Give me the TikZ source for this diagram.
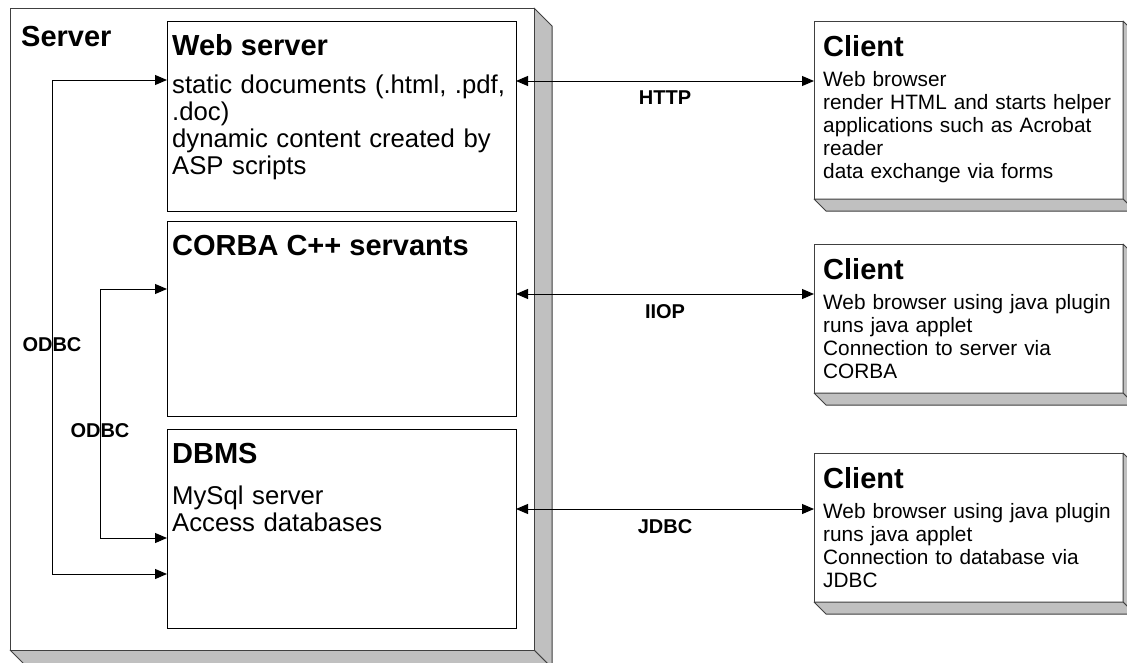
\documentclass[tikz,border=0pt]{standalone}
\usepackage{fontspec}
\setmainfont{Liberation Sans}
\usetikzlibrary{arrows.meta}
\definecolor{shade}{RGB}{192,192,192}
\definecolor{edge}{RGB}{64,64,64}
\begin{document}
\begin{tikzpicture}[x=1pt,y=-1pt,
  ibox/.style={draw=black,line width=1pt,fill=white,anchor=north west,inner sep=0pt,outer sep=0pt},
  obox/.style={draw=edge,line width=1pt,fill=white,anchor=north west,inner sep=0pt,outer sep=0pt},
  face/.style={fill=shade,draw=edge,line width=1pt,line join=bevel},
  ttl/.style={anchor=base west,inner sep=0pt,font=\fontsize{29}{32}\selectfont\bfseries},
  bodytxt/.style={anchor=base west,inner sep=0pt,align=left,text width=345pt,font=\fontsize{25.7}{27}\selectfont},
  cbody/.style={anchor=base west,inner sep=0pt,align=left,text width=300pt,font=\fontsize{20.8}{23.2}\selectfont},
  lbl/.style={inner sep=0pt,font=\fontsize{20}{22}\selectfont\bfseries},
  dconn/.style={line width=1pt,line join=miter,{Triangle[length=12pt,width=10pt]}-{Triangle[length=12pt,width=10pt]}}
]
\useasboundingbox (0,0) rectangle (1127,662);

% Server 3D box
\draw[face] (534,8) -- (552,26) -- (552,668) -- (534,650) -- cycle;
\draw[face] (10,650) -- (28,668) -- (552,668) -- (534,650) -- cycle;
\node[obox,minimum width=524pt,minimum height=642pt] (server) at (10,8) {};

% inner boxes
\node[ibox,minimum width=349pt,minimum height=190pt] (web) at (167,21) {};
\node[ibox,minimum width=349pt,minimum height=195pt] (corba) at (167,221) {};
\node[ibox,minimum width=349pt,minimum height=199pt] (dbms) at (167,429) {};

% client boxes
\node[obox,minimum width=309pt,minimum height=178pt] (c1) at (814,21) {};
\node[obox,minimum width=309pt,minimum height=149pt] (c2) at (814,244) {};
\node[obox,minimum width=309pt,minimum height=149pt] (c3) at (814,453) {};
\foreach \c in {c1,c2,c3}{
  \draw[face] (\c.north east) -- ([shift={(12,12)}]\c.north east) -- ([shift={(12,12)}]\c.south east) -- (\c.south east) -- cycle;
  \draw[face] (\c.south west) -- ([shift={(12,12)}]\c.south west) -- ([shift={(12,12)}]\c.south east) -- (\c.south east) -- cycle;
}

% texts
\node[ttl] (srvt) at (21,46) {Server};
\node[ttl] (webt) at (172,55) {Web server};
\node[bodytxt] (webb) at (172,93) {static documents (.html, .pdf,\\.doc)\\dynamic content created by\\ASP scripts};
\node[ttl] (corbat) at (172,255) {CORBA C++ servants};
\node[ttl] (dbmst) at (172,463) {DBMS};
\node[bodytxt] (dbmsb) at (172,504) {MySql server\\Access databases};

\node[ttl] (c1t) at (823,56) {Client};
\node[cbody] (c1b) at (823,86) {Web browser\\render HTML and starts helper\\applications such as Acrobat\\reader\\data exchange via forms};
\node[ttl] (c2t) at (823,279) {Client};
\node[cbody] (c2b) at (823,309) {Web browser using java plugin\\runs java applet\\Connection to server via\\CORBA};
\node[ttl] (c3t) at (823,488) {Client};
\node[cbody] (c3b) at (823,518) {Web browser using java plugin\\runs java applet\\Connection to database via\\JDBC};

% client connectors
\draw[dconn] (web.east |- 0,81) -- (c1.west |- 0,81);
\draw[dconn] (corba.east |- 0,294) -- (c2.west |- 0,294);
\draw[dconn] (dbms.east |- 0,509) -- (c3.west |- 0,509);
\node[lbl] (http) at (665,98) {HTTP};
\node[lbl] (iiop) at (665,312) {IIOP};
\node[lbl] (jdbc) at (665,527) {JDBC};

% ODBC connectors
\coordinate (o1) at (52,80);
\coordinate (o2) at (52,574);
\coordinate (i1) at (100,289);
\coordinate (i2) at (100,538);
\draw[dconn] (web.west |- o1) -- (o1) -- (o2) -- (dbms.west |- o2);
\draw[dconn] (corba.west |- i1) -- (i1) -- (i2) -- (dbms.west |- i2);
\node[lbl] (odbc1) at (52,345) {ODBC};
\node[lbl] (odbc2) at (100,431) {ODBC};
\end{tikzpicture}
\end{document}
